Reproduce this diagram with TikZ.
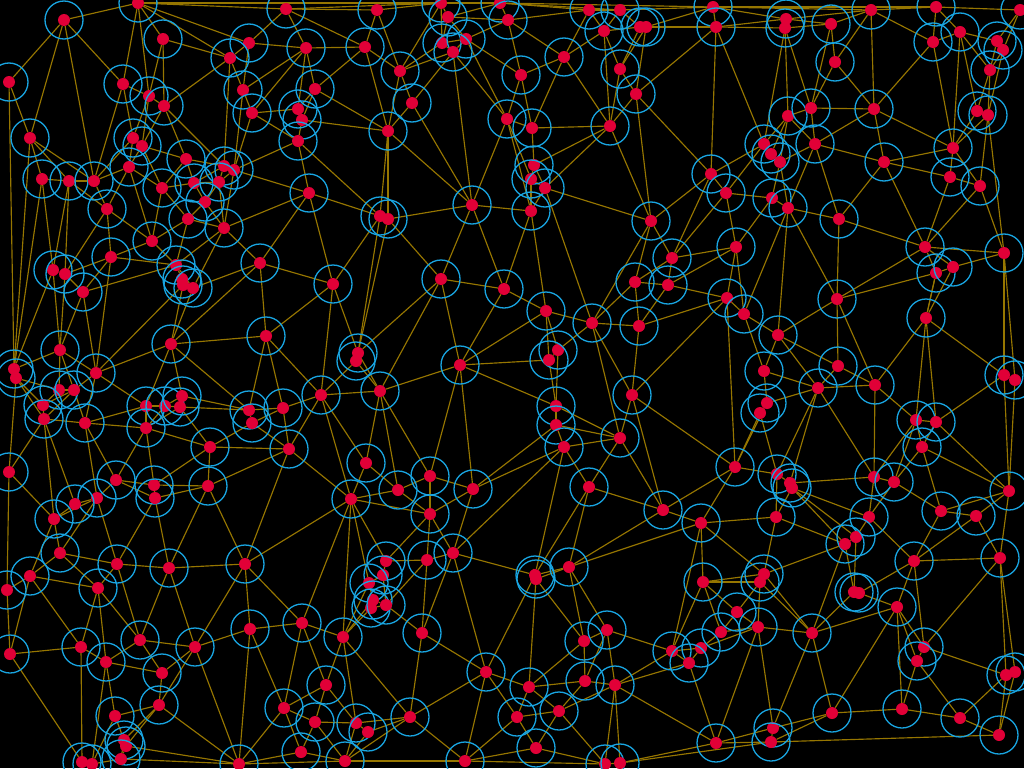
\documentclass[tikz,border=0pt]{standalone}
\definecolor{edgecol}{RGB}{150,118,0}
\definecolor{ringcol}{RGB}{25,165,225}
\definecolor{dotcol}{RGB}{225,0,55}
\pgfdeclarelayer{bg}
\pgfsetlayers{bg,main}
\tikzset{
 dot/.style={circle,fill=dotcol,draw=none,minimum size=12pt,inner sep=0pt},
 ring/.style={draw=ringcol,line width=1.3pt},
 edge/.style={draw=edgecol,line width=1.15pt}
}
\begin{document}
\begin{tikzpicture}[x=1pt,y=-1pt]
\begin{pgfonlayer}{bg}
\fill[black] (0,0) rectangle (1024,768);
\end{pgfonlayer}
\useasboundingbox (0,0) rectangle (1024,768);
\foreach \x/\y in {64/20, 138/3, 163/39, 249/43, 230/58, 9/82, 123/84, 149/96, 164/106, 243/90, 252/113, 30/138, 133/138, 142/146, 186/159, 129/167, 42/179, 69/181, 94/181, 162/188, 194/183, 224/166, 234/170, 219/182, 205/202, 107/209, 188/219, 224/228, 152/241, 111/257,
286/9, 377/10, 441/3, 448/17, 500/3, 508/20, 306/48, 365/47, 442/43, 466/39, 453/52, 400/71, 315/89, 298/109, 302/120, 298/141, 412/103, 507/119, 388/131, 309/193, 380/216, 388/219, 472/205,
589/10, 620/10, 713/7, 604/31, 640/27, 646/27, 716/27, 564/57, 521/75, 620/69, 636/94, 532/128, 610/126, 534/165, 531/179, 545/188, 531/211, 711/174, 726/193, 651/221, 736/247, 672/258,
786/19, 785/28, 831/24, 871/10, 936/7, 1020/10, 933/42, 960/32, 997/41, 1003/50, 990/70, 835/62, 788/116, 811/108, 874/109, 977/111, 988/115, 815/144, 764/144, 771/154, 780/162, 884/162, 953/148, 950/177, 980/186, 772/198, 788/208, 839/219, 925/247, 1004/253,
53/270, 65/274, 83/292, 176/265, 182/279, 183/285, 193/288, 171/344, 60/350, 14/369, 16/378, 96/373, 59/390, 74/390, 43/405, 44/419, 85/423, 146/406, 165/406, 182/396, 180/407, 146/428, 249/410, 252/423, 210/447, 9/472, 116/480, 154/485, 155/498, 208/486, 97/498, 75/504,
260/263, 333/284, 441/279, 504/289, 266/336, 358/353, 356/361, 460/365, 321/395, 380/391, 283/408, 289/449, 366/463, 430/476, 473/489, 398/490, 351/499, 430/514,
635/282, 668/285, 546/311, 592/323, 639/326, 727/298, 744/314, 558/350, 549/360, 632/395, 556/406, 556/425, 564/447, 620/438, 589/487, 663/510, 735/467, 764/371, 767/403, 760/413,
837/299, 778/335, 838/366, 818/388, 875/385, 936/273, 953/267, 926/318, 1004/375, 1015/380, 916/420, 936/422, 922/447, 777/474, 790/483, 792/488, 874/477, 894/482, 1009/491, 941/511, 976/516,
54/519, 60/553, 30/576, 7/590, 117/564, 98/588, 169/568, 245/564, 10/654, 81/647, 106/662, 140/640, 195/647, 250/629, 162/673, 159/705, 115/716, 124/740, 126/746, 121/759, 82/762, 92/764, 239/764,
386/561, 383/575, 369/583, 373/600, 371/608, 386/605, 427/560, 453/553, 302/623, 343/637, 422/633, 486/672, 326/685, 284/708, 315/722, 356/723, 368/732, 410/717, 301/752, 345/761, 465/761,
701/523, 535/575, 536/579, 569/567, 703/582, 764/574, 760/582, 737/612, 721/632, 758/627, 607/630, 584/641, 672/651, 701/648, 689/663, 529/687, 585/681, 615/685, 517/717, 559/711, 536/748, 605/764, 620/763, 716/743,
776/517, 869/517, 856/537, 845/544, 1000/558, 914/561, 854/592, 859/593, 897/607, 812/633, 924/647, 917/661, 1006/675, 1015/672, 832/713, 902/709, 960/718, 999/735, 773/728, 771/742}
{
 \draw[ring] (\x,\y) circle[radius=19pt];
 \node[dot] (n\x-\y) at (\x,\y) {};
}
\begin{pgfonlayer}{bg}
\foreach \a/\b in {
64-20/138-3, 64-20/9-82, 64-20/30-138, 64-20/94-181, 64-20/123-84,
138-3/123-84, 138-3/149-96, 138-3/163-39, 138-3/230-58, 138-3/249-43, 138-3/286-9, 138-3/441-3,
163-39/230-58, 163-39/164-106, 163-39/149-96,
249-43/230-58, 249-43/286-9, 249-43/306-48, 249-43/243-90,
230-58/164-106, 230-58/243-90, 230-58/224-166,
243-90/252-113, 243-90/234-170, 243-90/306-48,
252-113/234-170, 252-113/298-109, 252-113/298-141, 252-113/306-48,
234-170/298-141, 234-170/309-193, 224-228/309-193, 260-263/309-193, 234-170/224-228,
9-82/30-138, 9-82/14-369, 30-138/14-369, 30-138/42-179, 30-138/69-181, 30-138/94-181,
123-84/149-96, 123-84/133-138, 123-84/94-181,
149-96/164-106, 149-96/142-146, 149-96/133-138,
164-106/142-146, 164-106/186-159, 164-106/224-166,
42-179/69-181, 42-179/14-369, 42-179/53-270,
69-181/94-181, 69-181/107-209, 69-181/65-274, 69-181/53-270,
94-181/129-167, 94-181/107-209, 94-181/133-138,
133-138/142-146, 133-138/129-167,
142-146/129-167, 142-146/186-159, 142-146/162-188,
129-167/162-188, 129-167/107-209, 129-167/152-241,
186-159/224-166, 186-159/194-183, 186-159/162-188,
162-188/194-183, 162-188/188-219, 162-188/152-241,
194-183/219-182, 194-183/205-202, 194-183/224-166,
224-166/234-170, 224-166/219-182,
219-182/205-202, 219-182/234-170, 219-182/224-228,
205-202/188-219, 205-202/224-228,
188-219/224-228, 188-219/152-241, 188-219/176-265,
224-228/260-263, 224-228/193-288, 224-228/176-265,
152-241/111-257, 152-241/176-265,
107-209/111-257, 107-209/152-241, 107-209/65-274,
111-257/65-274, 111-257/83-292, 111-257/176-265, 111-257/96-373,
286-9/306-48, 286-9/365-47, 286-9/377-10, 286-9/441-3,
377-10/441-3, 377-10/365-47, 377-10/400-71,
441-3/448-17, 441-3/500-3, 441-3/400-71, 441-3/442-43,
448-17/442-43, 448-17/466-39, 448-17/500-3, 448-17/508-20,
500-3/508-20, 500-3/589-10, 500-3/620-10, 500-3/713-7,
508-20/466-39, 508-20/564-57, 508-20/521-75, 508-20/589-10,
306-48/365-47, 306-48/315-89, 306-48/298-109,
365-47/400-71, 365-47/315-89, 365-47/388-131,
400-71/412-103, 400-71/388-131, 400-71/442-43, 400-71/453-52,
442-43/466-39, 442-43/453-52,
466-39/453-52, 466-39/507-119, 466-39/521-75,
453-52/412-103, 453-52/472-205, 453-52/507-119,
412-103/388-131, 412-103/472-205,
507-119/472-205, 507-119/521-75, 507-119/532-128, 507-119/531-179, 507-119/531-211,
315-89/298-109, 315-89/388-131, 315-89/302-120,
298-109/302-120,
302-120/298-141, 302-120/388-131,
298-141/309-193, 298-141/380-216,
388-131/380-216, 388-131/388-219, 388-131/472-205,
309-193/380-216, 309-193/333-284,
380-216/388-219, 380-216/333-284, 380-216/358-353,
388-219/472-205, 388-219/441-279, 388-219/358-353,
472-205/441-279, 472-205/531-211, 472-205/504-289,
589-10/604-31, 589-10/564-57, 589-10/620-10,
620-10/604-31, 620-10/640-27, 620-10/713-7,
604-31/564-57, 604-31/610-126, 604-31/640-27, 604-31/620-69,
640-27/646-27, 640-27/620-69, 646-27/636-94, 646-27/716-27, 646-27/713-7, 646-27/620-69,
564-57/521-75, 564-57/532-128, 564-57/610-126,
521-75/532-128,
620-69/636-94, 620-69/610-126,
636-94/610-126, 636-94/651-221, 636-94/716-27, 636-94/711-174,
610-126/532-128, 610-126/534-165, 610-126/545-188, 610-126/651-221,
532-128/534-165,
534-165/531-179, 534-165/545-188, 531-179/545-188, 531-179/531-211,
545-188/531-211, 545-188/651-221, 545-188/592-323,
531-211/504-289, 531-211/546-311,
651-221/592-323, 651-221/635-282,
713-7/716-27, 713-7/786-19, 713-7/871-10, 713-7/936-7,
716-27/711-174, 716-27/764-144, 716-27/786-19, 716-27/785-28,
711-174/726-193, 711-174/651-221, 711-174/672-258, 711-174/764-144,
726-193/736-247, 726-193/772-198, 726-193/764-144, 726-193/672-258,
651-221/672-258,
672-258/736-247, 672-258/635-282, 672-258/668-285,
736-247/668-285, 736-247/727-298, 736-247/772-198, 736-247/744-314,
786-19/785-28, 786-19/831-24, 786-19/871-10,
785-28/831-24, 785-28/788-116, 785-28/764-144, 785-28/811-108,
831-24/835-62, 831-24/811-108, 831-24/871-10,
871-10/936-7, 871-10/874-109, 871-10/835-62, 871-10/933-42,
936-7/933-42, 936-7/960-32, 936-7/1020-10,
960-32/933-42, 960-32/997-41, 960-32/953-148, 960-32/990-70, 960-32/977-111,
1020-10/997-41, 1020-10/1003-50,
997-41/1003-50, 997-41/990-70, 1003-50/990-70,
990-70/977-111, 990-70/988-115, 977-111/988-115,
933-42/874-109, 933-42/953-148,
835-62/811-108, 835-62/874-109,
788-116/811-108, 788-116/815-144, 788-116/764-144, 788-116/771-154, 788-116/780-162,
811-108/874-109, 811-108/815-144,
874-109/815-144, 874-109/884-162, 874-109/953-148,
815-144/780-162, 815-144/884-162, 815-144/788-208, 815-144/839-219,
764-144/771-154, 771-154/780-162,
780-162/772-198, 780-162/788-208,
884-162/953-148, 884-162/950-177, 884-162/839-219, 884-162/925-247,
953-148/977-111, 953-148/950-177, 953-148/988-115, 953-148/980-186,
988-115/980-186, 988-115/1004-253, 1003-50/988-115,
950-177/980-186, 950-177/925-247,
980-186/1004-253, 980-186/925-247,
839-219/788-208, 839-219/925-247, 839-219/837-299,
772-198/788-208, 788-208/837-299, 788-208/778-335, 788-208/744-314,
925-247/936-273, 925-247/953-267, 925-247/837-299, 925-247/1004-253,
953-267/936-273, 953-267/1004-253, 936-273/926-318, 953-267/926-318,
1004-253/1004-375, 1004-253/1015-380,
837-299/936-273, 837-299/778-335, 837-299/838-366, 837-299/875-385,
744-314/727-298, 744-314/778-335, 744-314/764-371,
53-270/65-274, 53-270/60-350, 65-274/83-292, 53-270/14-369, 65-274/60-350,
83-292/60-350, 83-292/96-373, 83-292/176-265,
176-265/182-279, 182-279/183-285, 183-285/193-288, 176-265/193-288, 182-279/193-288,
193-288/260-263, 193-288/171-344, 183-285/171-344, 183-285/96-373,
171-344/96-373, 171-344/182-396, 171-344/146-406, 171-344/249-410, 171-344/266-336, 171-344/260-263,
266-336/260-263, 266-336/249-410, 266-336/283-408,
60-350/14-369, 60-350/96-373, 60-350/59-390, 60-350/74-390,
14-369/16-378, 16-378/43-405, 16-378/59-390, 16-378/9-472, 16-378/44-419,
59-390/74-390, 59-390/43-405, 74-390/43-405, 74-390/44-419, 74-390/96-373, 74-390/85-423,
43-405/44-419, 44-419/85-423, 44-419/9-472, 44-419/54-519, 44-419/75-504,
96-373/85-423, 96-373/146-406,
85-423/146-428, 85-423/116-480, 85-423/97-498, 85-423/146-406,
146-406/165-406, 146-406/146-428, 165-406/182-396, 165-406/180-407, 182-396/180-407, 165-406/146-428,
180-407/210-447, 180-407/249-410, 182-396/249-410, 180-407/146-428,
146-428/116-480, 146-428/154-485, 146-428/210-447,
249-410/252-423, 249-410/283-408, 252-423/283-408, 252-423/210-447, 252-423/289-449,
210-447/208-486, 210-447/154-485, 210-447/289-449,
9-472/54-519, 9-472/7-590,
116-480/154-485, 116-480/97-498, 116-480/155-498,
97-498/75-504, 97-498/54-519, 97-498/117-564, 97-498/60-553,
75-504/54-519,
154-485/155-498, 154-485/208-486, 155-498/208-486, 155-498/117-564, 155-498/169-568,
208-486/169-568, 208-486/245-564, 208-486/289-449,
260-263/333-284, 333-284/266-336, 333-284/321-395, 333-284/358-353,
441-279/504-289, 441-279/460-365, 441-279/358-353, 441-279/380-391,
504-289/460-365, 504-289/546-311,
266-336/321-395,
358-353/356-361, 356-361/380-391, 356-361/321-395, 358-353/380-391,
460-365/380-391, 460-365/430-476, 460-365/473-489, 460-365/546-311, 460-365/549-360, 460-365/556-406,
321-395/380-391, 321-395/283-408, 321-395/289-449, 321-395/351-499, 321-395/366-463,
380-391/366-463, 380-391/398-490, 380-391/430-476,
283-408/289-449,
289-449/351-499, 289-449/245-564,
366-463/351-499, 366-463/398-490,
430-476/398-490, 430-476/473-489, 430-476/430-514,
398-490/351-499, 398-490/430-514,
473-489/430-514, 473-489/556-425, 473-489/564-447, 473-489/453-553,
351-499/245-564, 351-499/386-561, 351-499/369-583, 351-499/343-637, 351-499/302-623, 351-499/430-514,
245-564/302-623,
546-311/592-323, 546-311/558-350, 546-311/549-360,
592-323/635-282, 592-323/639-326, 592-323/558-350, 592-323/620-438, 592-323/632-395,
635-282/668-285, 635-282/639-326, 668-285/639-326, 668-285/727-298,
639-326/632-395, 639-326/727-298,
727-298/632-395, 727-298/735-467,
632-395/620-438, 632-395/735-467, 632-395/663-510,
558-350/549-360, 549-360/556-406, 558-350/556-406,
556-406/556-425, 556-425/564-447, 556-425/620-438, 564-447/620-438, 556-406/620-438,
564-447/589-487, 620-438/589-487, 620-438/663-510,
589-487/663-510, 589-487/569-567, 589-487/535-575,
564-447/535-575, 564-447/453-553,
663-510/701-523, 663-510/569-567, 663-510/735-467,
735-467/760-413, 735-467/701-523, 735-467/777-474, 735-467/767-403,
760-413/767-403, 767-403/764-371, 764-371/778-335, 767-403/818-388, 760-413/777-474, 764-371/818-388,
778-335/818-388, 778-335/838-366, 838-366/818-388, 838-366/875-385,
818-388/875-385, 818-388/777-474, 818-388/790-483, 818-388/874-477,
875-385/926-318, 875-385/874-477, 875-385/916-420,
926-318/936-273, 926-318/1004-375, 926-318/916-420, 926-318/936-422,
1004-375/1015-380, 1004-375/936-422, 1015-380/1009-491, 1004-375/1009-491,
916-420/936-422, 916-420/922-447, 936-422/922-447, 916-420/894-482, 916-420/874-477,
922-447/894-482, 922-447/941-511, 936-422/1009-491, 922-447/1009-491,
874-477/894-482, 874-477/869-517, 894-482/869-517, 894-482/941-511,
941-511/976-516, 941-511/914-561, 976-516/914-561, 976-516/1009-491, 976-516/1000-558, 941-511/1009-491,
777-474/790-483, 790-483/792-488, 777-474/776-517, 792-488/776-517, 792-488/869-517, 792-488/856-537, 792-488/845-544, 790-483/874-477,
1009-491/1000-558,
54-519/60-553, 54-519/30-576,
60-553/30-576, 60-553/98-588, 60-553/117-564,
30-576/7-590, 30-576/98-588, 30-576/10-654, 30-576/81-647,
7-590/10-654,
117-564/169-568, 117-564/98-588, 117-564/140-640,
169-568/245-564, 169-568/140-640, 169-568/195-647,
245-564/250-629, 245-564/195-647,
98-588/81-647, 98-588/106-662, 98-588/140-640,
10-654/81-647, 10-654/82-762,
81-647/106-662, 81-647/82-762,
106-662/140-640, 106-662/115-716, 106-662/92-764, 106-662/162-673,
140-640/195-647, 140-640/162-673,
195-647/250-629, 195-647/162-673, 195-647/159-705, 195-647/239-764,
162-673/159-705,
159-705/115-716, 159-705/124-740, 159-705/239-764, 159-705/126-746,
115-716/124-740, 115-716/92-764,
124-740/126-746, 126-746/121-759, 126-746/239-764, 124-740/121-759,
121-759/92-764, 92-764/82-762, 121-759/239-764,
250-629/302-623, 250-629/284-708, 250-629/239-764,
302-623/343-637, 302-623/284-708, 302-623/326-685,
343-637/371-608, 343-637/369-583, 343-637/373-600, 343-637/326-685, 343-637/410-717, 343-637/356-723,
386-561/383-575, 383-575/369-583, 369-583/373-600, 373-600/371-608, 371-608/386-605, 386-605/373-600, 383-575/386-605, 386-561/427-560,
386-605/427-560, 386-605/422-633,
427-560/453-553, 427-560/422-633, 427-560/430-514, 386-561/430-514, 453-553/430-514,
453-553/422-633, 453-553/486-672, 453-553/535-575,
422-633/410-717, 422-633/486-672,
486-672/410-717, 486-672/465-761, 486-672/529-687, 486-672/535-575, 486-672/517-717,
326-685/284-708, 326-685/315-722, 326-685/356-723,
284-708/315-722, 284-708/301-752, 284-708/239-764,
315-722/356-723, 315-722/301-752, 315-722/345-761,
356-723/368-732, 356-723/410-717, 368-732/410-717, 368-732/345-761, 356-723/345-761,
410-717/465-761, 410-717/345-761,
465-761/517-717, 465-761/536-748,
239-764/301-752, 239-764/345-761, 301-752/345-761, 345-761/465-761, 465-761/605-764,
535-575/536-579, 535-575/569-567, 536-579/569-567, 536-579/529-687, 536-579/584-641,
569-567/584-641, 569-567/607-630, 569-567/701-523,
701-523/703-582, 701-523/672-651, 701-523/764-574, 701-523/776-517,
703-582/764-574, 703-582/760-582, 703-582/737-612, 703-582/721-632, 703-582/672-651,
607-630/584-641, 607-630/672-651, 607-630/615-685, 607-630/585-681,
584-641/585-681, 584-641/529-687,
672-651/701-648, 672-651/689-663, 672-651/615-685, 701-648/689-663, 701-648/721-632, 689-663/716-743, 701-648/758-627,
721-632/737-612, 721-632/758-627, 737-612/758-627, 737-612/760-582, 758-627/760-582, 760-582/764-574,
529-687/585-681, 529-687/517-717, 529-687/559-711,
585-681/615-685, 585-681/559-711,
615-685/620-763, 615-685/605-764, 615-685/559-711, 615-685/689-663, 615-685/716-743,
517-717/536-748, 517-717/559-711, 559-711/536-748, 559-711/605-764, 536-748/605-764,
605-764/620-763,
716-743/620-763, 716-743/771-742, 716-743/758-627, 716-743/773-728,
764-574/776-517, 764-574/845-544, 764-574/812-633, 760-582/812-633, 758-627/812-633, 758-627/773-728,
776-517/845-544,
869-517/856-537, 869-517/914-561, 856-537/845-544, 856-537/854-592, 845-544/854-592,
914-561/897-607, 914-561/924-647, 914-561/1000-558, 914-561/859-593,
1000-558/1006-675, 1000-558/924-647, 1000-558/1015-672,
854-592/859-593, 854-592/812-633, 859-593/897-607, 845-544/812-633,
897-607/924-647, 897-607/917-661, 897-607/902-709, 897-607/812-633, 897-607/832-713,
812-633/832-713, 812-633/773-728,
924-647/917-661, 924-647/1006-675, 917-661/960-718, 917-661/902-709,
1006-675/1015-672, 1006-675/960-718, 1006-675/999-735, 1015-672/999-735,
832-713/902-709, 832-713/773-728, 902-709/960-718, 960-718/999-735,
773-728/771-742, 771-742/999-735, 771-742/832-713, 620-763/771-742}
 \draw[edge] (n\a) -- (n\b);
\end{pgfonlayer}
\end{tikzpicture}
\end{document}
